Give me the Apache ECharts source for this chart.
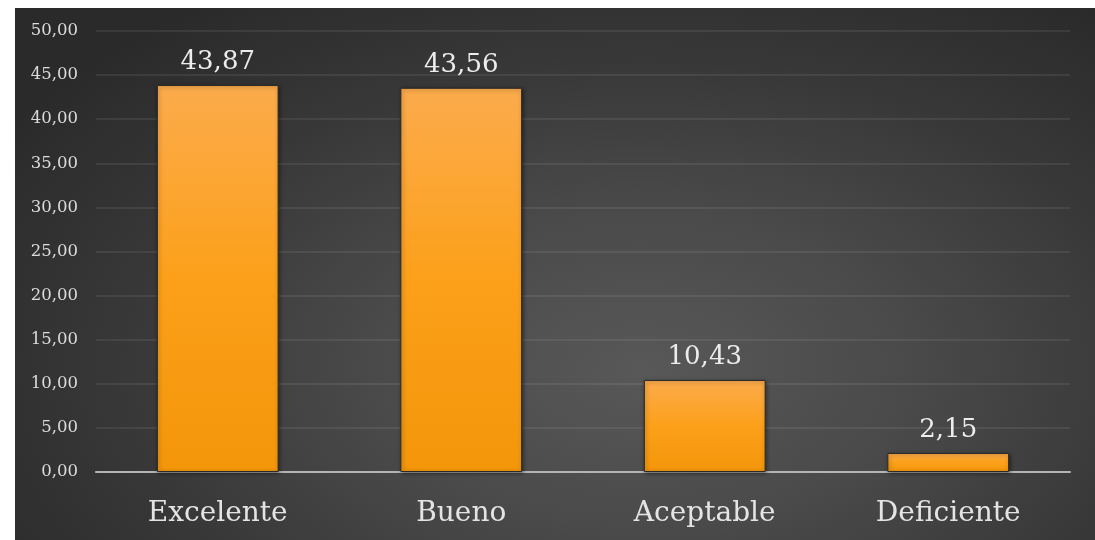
<!DOCTYPE html>
<html><head><meta charset="utf-8">
<script src="https://cdn.jsdelivr.net/npm/echarts@6/dist/echarts.min.js"></script>
<style>
html,body{margin:0;padding:0;background:#fff;width:1095px;height:540px;overflow:hidden;}
#bg{position:absolute;left:15px;top:8px;width:1080px;height:532px;
background:radial-gradient(ellipse 70% 85% at 58% 68%, #585858 0%, #4a4a4a 35%, #373737 70%, #2a2a2a 100%);}
#c{position:absolute;left:0;top:0;width:1095px;height:540px;}
</style></head>
<body><div id="bg"></div><div id="c"></div>
<script>
const categories = ['Excelente', 'Bueno', 'Aceptable', 'Deficiente'];
const values = [43.87, 43.56, 10.43, 2.15];
const yTicks = [0, 5, 10, 15, 20, 25, 30, 35, 40, 45, 50];

const fmt = v => v.toFixed(2).replace('.', ',');
const chart = echarts.init(document.getElementById('c'), null, {renderer: 'canvas'});
chart.setOption({
  backgroundColor: 'transparent',
  animation: false,
  grid: {left: 96, right: 25, top: 31, bottom: 68, containLabel: false},
  xAxis: {
    type: 'category', data: categories,
    axisLine: {lineStyle: {color: '#b4b4b4', width: 2}},
    axisTick: {show: false},
    axisLabel: {color: '#e4e4e4', fontFamily: 'DejaVu Serif', fontSize: 28, margin: 28}
  },
  yAxis: {
    type: 'value', min: yTicks[0], max: yTicks[yTicks.length - 1], interval: 5,
    axisLine: {show: false}, axisTick: {show: false},
    splitLine: {lineStyle: {color: 'rgba(255,255,255,0.1)', width: 1.5}},
    axisLabel: {color: '#dcdcdc', fontFamily: 'DejaVu Serif', fontSize: 16.5, margin: 18,
      formatter: v => fmt(v)}
  },
  series: [{
    type: 'bar', data: values, barWidth: '50%',
    itemStyle: {
      color: new echarts.graphic.LinearGradient(0, 0, 0, 1, [
        {offset: 0, color: '#fbab4c'},
        {offset: 0.5, color: '#fca01a'},
        {offset: 1, color: '#f3960a'}
      ]),
      borderColor: '#2a2a2a', borderWidth: 1,
      shadowColor: 'rgba(0,0,0,0.45)', shadowBlur: 4, shadowOffsetX: 1, shadowOffsetY: 1
    },
    label: {show: true, position: 'top', distance: 10, color: '#ececec',
      fontFamily: 'DejaVu Serif', fontSize: 26, formatter: p => fmt(p.value)}
  }]
});
</script></body></html>
